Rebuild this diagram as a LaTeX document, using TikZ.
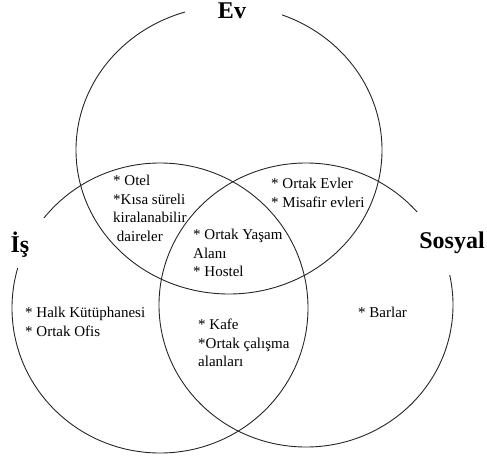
\documentclass[tikz,border=0pt]{standalone}
\usepackage{fontspec}
\setmainfont{Liberation Serif}
\begin{document}
\begin{tikzpicture}[x=1pt,y=-1pt,
  ring/.style={draw=black!85,line width=0.9pt},
  setlabel/.style={fill=white,inner sep=0pt,font=\fontsize{24}{28}\selectfont\bfseries},
  item/.style={anchor=north west,inner sep=0pt,align=left,font=\fontsize{15}{18.5}\selectfont}]
  \useasboundingbox (0,0) rectangle (487,461);
  % the three sets
  \draw[ring] (229,150) ellipse [x radius=153,y radius=144];
  \draw[ring] (160,308) ellipse [x radius=148,y radius=145];
  \draw[ring] (306,305) ellipse [x radius=147,y radius=142];
  % set names on white patches that break the outlines
  \node[setlabel,minimum width=97pt,minimum height=28pt] (ev) at (233,8) {};
  \node[font=\fontsize{24}{28}\selectfont\bfseries,inner sep=0pt] (evt) at (232,11) {Ev};
  \node[setlabel,minimum width=48pt,minimum height=50pt] (is) at (21,243) {};
  \node[font=\fontsize{24}{28}\selectfont\bfseries,inner sep=0pt] (ist) at (20,245) {İş};
  \node[setlabel,minimum width=74pt,minimum height=63pt] (sosyal) at (452,243.5) {};
  \node[font=\fontsize{24}{28}\selectfont\bfseries,inner sep=0pt] (sosyalt) at (452,243) {Sosyal};
  % region contents
  \node[item] (evis) at (113,175) {* Otel\\*Kısa süreli\\kiralanabilir\\\ daireler};
  \node[item] (evsos) at (271,178) {* Ortak Evler\\* Misafir evleri};
  \node[item] (all) at (193,229) {* Ortak Yaşam\\Alanı\\* Hostel};
  \node[item] (isonly) at (25,307) {* Halk Kütüphanesi\\* Ortak Ofis};
  \node[item] (issos) at (198,319) {* Kafe\\*Ortak çalışma\\alanları};
  \node[item] (sos) at (358,307) {* Barlar};
\end{tikzpicture}
\end{document}
